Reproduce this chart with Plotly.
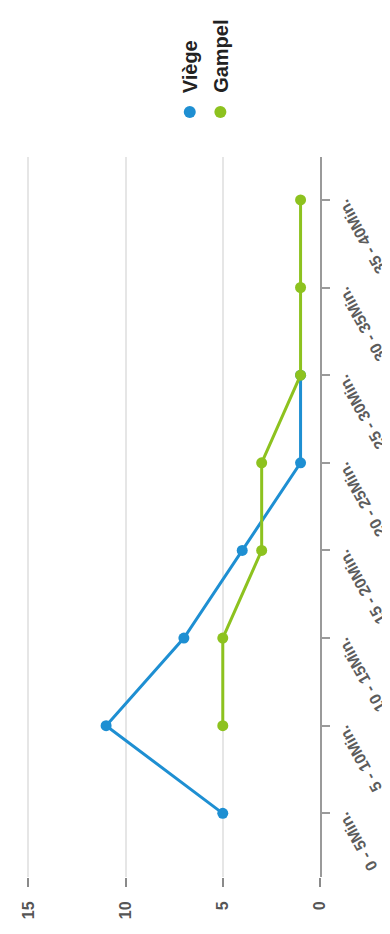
"""
Viège vs Gampel - counts per 5-minute interval, drawn sideways like the original.
"""

import plotly.graph_objects as go

CATEGORIES = ["0 - 5Min.", "5 - 10Min.", "10 - 15Min.", "15 - 20Min.",
              "20 - 25Min.", "25 - 30Min.", "30 - 35Min.", "35 - 40Min."]
VIEGE = [5, 11, 7, 4, 1, 1, None, None]
GAMPEL = [None, 5, 5, 3, 3, 1, 1, 1]
VALUE_TICKS = [0, 5, 10, 15]

SERIES = {
    "Viège": (VIEGE, "#1e8fd2"),
    "Gampel": (GAMPEL, "#8dc21f"),
}

FONT = "Liberation Sans, Arial, sans-serif"

# page body has an 8px margin, so the figure is a bit smaller than the window
fig = go.Figure()
for name, (vals, color) in SERIES.items():
    fig.add_trace(go.Scatter(
        x=vals, y=CATEGORIES, name=name,
        mode="lines+markers",
        line=dict(color=color, width=3),
        marker=dict(color=color, size=11),
        showlegend=False,
    ))

# category labels, rotated like the source image
for cat in CATEGORIES:
    fig.add_annotation(
        x=1, xref="paper", y=cat, yref="y",
        text=cat, textangle=-119, showarrow=False,
        xanchor="left", yanchor="top", xshift=12, yshift=6,
        font=dict(family=FONT, size=16, color="#5c5c5c", weight="bold"),
    )

# legend: vertical text with a dot under it
for i, (name, (vals, color)) in enumerate(SERIES.items()):
    px = 188 + i * 31
    xp = (px - 22) / 298
    fig.add_annotation(
        x=xp, xref="paper", y=1.0, yref="paper",
        text=name, textangle=-90, showarrow=False,
        xanchor="center", yanchor="bottom", yshift=62,
        font=dict(family=FONT, size=20, color="#222", weight="bold"),
    )
    fig.add_shape(
        type="circle", xref="paper", yref="paper",
        xsizemode="pixel", ysizemode="pixel",
        xanchor=xp, yanchor=1.0,
        x0=-6, x1=6, y0=39, y1=51,
        fillcolor=color, line=dict(width=0),
    )

fig.update_xaxes(
    range=[15.12, 0], tickvals=VALUE_TICKS, tickangle=-90,
    showgrid=True, gridcolor="#e6e6e6", gridwidth=1.5,
    zeroline=False, showline=False,
    ticks="outside", ticklen=9, tickcolor="#8a8a8a", tickwidth=1.5,
    ticklabelstandoff=8,
    tickfont=dict(family=FONT, size=16, color="#555", weight="bold"),
)
fig.update_yaxes(
    side="right", showticklabels=False, showgrid=False, zeroline=False,
    showline=True, linecolor="#9a9a9a", linewidth=2,
    ticks="outside", ticklen=8, tickcolor="#9a9a9a", tickwidth=1.5,
)
fig.update_layout(
    width=382, height=926,
    margin=dict(l=14, r=70, t=149, b=57),
    plot_bgcolor="white", paper_bgcolor="white",
    font=dict(family=FONT),
)

fig.write_html("out.html")
